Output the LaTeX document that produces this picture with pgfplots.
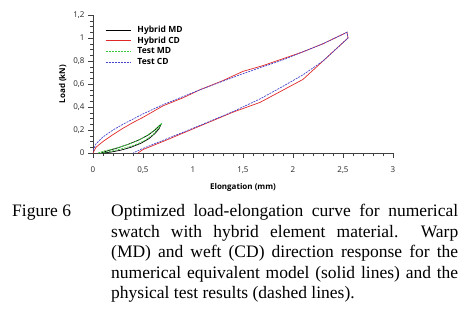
\documentclass[border=0pt]{standalone}
\usepackage{fontspec}
\setmainfont{Liberation Serif}
\newfontfamily\chartfont{Open Sans}
\usepackage{pgfplots}
\pgfplotsset{compat=1.18}
\definecolor{cred}{RGB}{225,40,40}
\definecolor{cgreen}{RGB}{60,200,60}
\definecolor{cblue}{RGB}{70,70,205}
\begin{document}
\begin{tikzpicture}
\path[use as bounding box] (0,0) rectangle (466pt,317pt);
\begin{axis}[
  at={(93pt,164pt)}, anchor=south west,
  scale only axis, width=300pt, height=138pt,
  xmin=0, xmax=3, ymin=0, ymax=1.2,
  axis lines=left, axis line style={-, black!75, line width=0.6pt},
  xtick={0,0.5,1,1.5,2,2.5,3}, ytick={0,0.2,0.4,0.6,0.8,1,1.2},
  xticklabels={0,{0,5},1,{1,5},2,{2,5},3},
  yticklabels={0,{0,2},{0,4},{0,6},{0,8},1,{1,2}},
  minor x tick num=4, minor y tick num=3,
  tick align=outside, major tick length=5pt, minor tick length=3pt,
  tick style={black!75, line width=0.5pt},
  ticklabel style={font=\chartfont\fontsize{8}{9}\selectfont, text=black!85},
  xticklabel style={yshift=-5pt},
  xlabel={Elongation (mm)}, ylabel={Load (kN)},
  xlabel style={yshift=-3pt},
  label style={font=\chartfont\bfseries\fontsize{8}{9}\selectfont},
  legend style={at={(0.04,0.925)}, anchor=north west, draw=none, fill=none,
    font=\chartfont\bfseries\fontsize{8.5}{9}\selectfont, inner sep=0pt, row sep=2pt,
    nodes={inner sep=0.5pt, text height=6.3pt, text depth=1.5pt}},
  legend cell align=left,
  legend image code/.code={\draw[#1, line width=0.9pt] (0pt,0pt) -- (25pt,0pt); \path (31pt,0pt);},
  every axis plot/.append style={line width=0.7pt},
]
\addplot[black] coordinates {
(0.08,0) (0.15,0.02) (0.25,0.045) (0.35,0.075) (0.45,0.11) (0.55,0.155) (0.62,0.2) (0.68,0.25)
(0.66,0.21) (0.62,0.17) (0.56,0.125) (0.48,0.085) (0.38,0.05) (0.28,0.025) (0.18,0.008) (0.1,0)};
\addlegendentry{Hybrid MD}
\addplot[cred] coordinates {
(0,0) (0.03,0.05) (0.1,0.1) (0.2,0.16) (0.3,0.215) (0.4,0.265) (0.5,0.31) (0.6,0.36) (0.7,0.41)
(0.9,0.48) (1.07,0.55) (1.3,0.63) (1.5,0.71) (1.7,0.76) (1.9,0.82) (2.1,0.88) (2.3,0.95) (2.54,1.05)
(2.55,1.0) (2.25,0.76) (2.1,0.64) (1.67,0.44) (1.4,0.355) (1.07,0.235) (0.7,0.1) (0.5,0.03) (0.45,0)};
\addlegendentry{Hybrid CD}
\addplot[cgreen, dash pattern=on 2pt off 1pt] coordinates {
(0.05,0) (0.12,0.02) (0.2,0.035) (0.3,0.06) (0.4,0.09) (0.5,0.13) (0.6,0.19) (0.69,0.26)
(0.66,0.22) (0.6,0.16) (0.52,0.11) (0.42,0.07) (0.3,0.04) (0.18,0.015) (0.08,0)};
\addlegendentry{Test MD}
\addplot[cblue, dash pattern=on 2pt off 1pt] coordinates {
(0,0.02) (0.03,0.08) (0.1,0.14) (0.2,0.2) (0.3,0.25) (0.4,0.295) (0.5,0.34) (0.6,0.38) (0.7,0.42)
(0.9,0.49) (1.07,0.55) (1.3,0.625) (1.5,0.69) (1.7,0.75) (1.9,0.81) (2.1,0.88) (2.3,0.95) (2.54,1.05)
(2.55,1.0) (2.3,0.8) (2.1,0.68) (1.9,0.58) (1.67,0.47) (1.4,0.36) (1.07,0.24) (0.7,0.11) (0.5,0.04) (0.4,0)};
\addlegendentry{Test CD}
\end{axis}
\node[anchor=base west, inner sep=0pt, font=\fontsize{17.5}{20.5}\selectfont] at (12pt,101pt) {Figure 6};
\node[anchor=north west, inner sep=0pt, text width=347pt, align=justify,
  font=\fontsize{17.5}{20.5}\selectfont] at (111pt,113pt)
  {Optimized load-elongation curve for numerical\linebreak
   swatch with hybrid element material.\ \ Warp\linebreak
   (MD) and weft (CD) direction response for the\linebreak
   numerical equivalent model (solid lines) and the\linebreak
   physical test results (dashed lines).};
\end{tikzpicture}
\end{document}
